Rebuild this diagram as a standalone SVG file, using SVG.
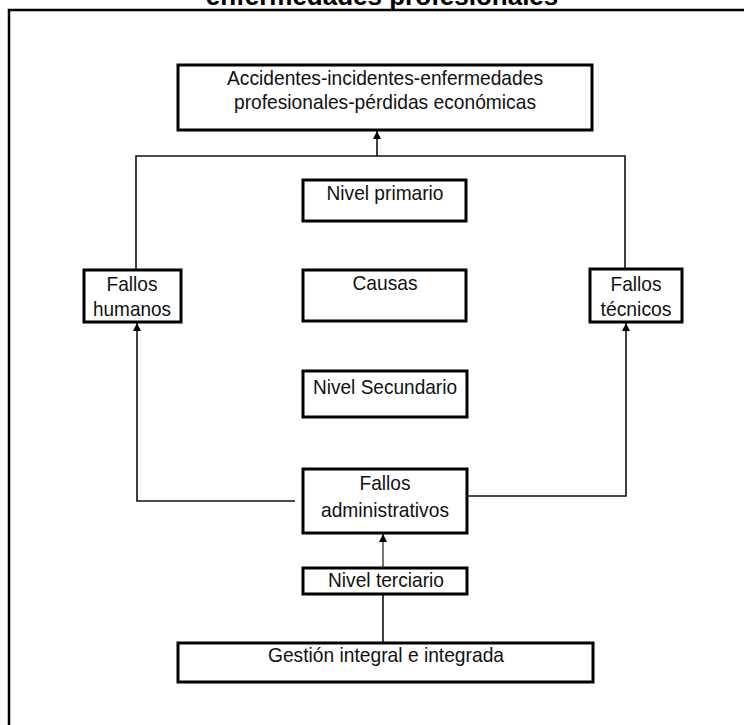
<svg xmlns="http://www.w3.org/2000/svg" width="744" height="725" viewBox="0 0 744 725">
<style>
.box{fill:#fff;stroke:#000;stroke-width:3}
.t{font-family:"Liberation Sans",Arial,sans-serif;font-size:21px;fill:#111;text-anchor:middle}
.title{font-family:"Liberation Sans",Arial,sans-serif;font-size:26px;font-weight:bold;fill:#000;text-anchor:middle}
.c{fill:none;stroke:#111;stroke-width:1.6}
.g{fill:none;stroke:#666;stroke-width:1.8}
</style>
<defs>
<marker id="ah" viewBox="0 0 10 10" refX="10" refY="5" markerWidth="8" markerHeight="8" markerUnits="userSpaceOnUse" orient="auto">
<path d="M0 0 L10 5 L0 10 Z" fill="#000"/>
</marker>
</defs>
<rect width="744" height="725" fill="#fff"/>
<text class="title" x="382" y="5">enfermedades profesionales</text>
<path d="M9 725 V10 H744" fill="none" stroke="#000" stroke-width="2.5"/>

<g id="connectors">
<path class="c" d="M136 270 V156 H625 V269"/>
<path class="c" d="M377 156 V131" marker-end="url(#ah)"/>
<path class="c" d="M295 501 H137 V323" marker-end="url(#ah)"/>
<path class="c" d="M468 496 H626 V323" marker-end="url(#ah)"/>
<path class="g" d="M383 568 V534" marker-end="url(#ah)"/>
<path class="c" d="M383 594 V643"/>
</g>

<g id="n-accidentes">
<rect class="box" x="178" y="65" width="414" height="65"/>
<text class="t" x="385" y="85" textLength="316" lengthAdjust="spacingAndGlyphs">Accidentes-incidentes-enfermedades</text>
<text class="t" x="385" y="109" textLength="302" lengthAdjust="spacingAndGlyphs">profesionales-pérdidas económicas</text>
</g>
<g id="n-primario">
<rect class="box" x="303" y="180" width="163" height="41"/>
<text class="t" x="385" y="200" textLength="117" lengthAdjust="spacingAndGlyphs">Nivel primario</text>
</g>
<g id="n-humanos">
<rect class="box" x="84" y="270" width="97" height="52"/>
<text class="t" x="132" y="291" textLength="51" lengthAdjust="spacingAndGlyphs">Fallos</text>
<text class="t" x="132" y="316" textLength="78" lengthAdjust="spacingAndGlyphs">humanos</text>
</g>
<g id="n-causas">
<rect class="box" x="303" y="270" width="163" height="51"/>
<text class="t" x="385" y="290" textLength="65" lengthAdjust="spacingAndGlyphs">Causas</text>
</g>
<g id="n-tecnicos">
<rect class="box" x="590" y="269" width="92" height="53"/>
<text class="t" x="636" y="291" textLength="51" lengthAdjust="spacingAndGlyphs">Fallos</text>
<text class="t" x="636" y="316" textLength="71" lengthAdjust="spacingAndGlyphs">técnicos</text>
</g>
<g id="n-secundario">
<rect class="box" x="303" y="371" width="164" height="46"/>
<text class="t" x="385" y="394" textLength="144" lengthAdjust="spacingAndGlyphs">Nivel Secundario</text>
</g>
<g id="n-administrativos">
<rect class="box" x="303" y="469" width="164" height="64"/>
<text class="t" x="385" y="490" textLength="51" lengthAdjust="spacingAndGlyphs">Fallos</text>
<text class="t" x="385" y="517" textLength="128" lengthAdjust="spacingAndGlyphs">administrativos</text>
</g>
<g id="n-terciario">
<rect class="box" x="303" y="568" width="164" height="26"/>
<text class="t" x="386" y="587" textLength="116" lengthAdjust="spacingAndGlyphs">Nivel terciario</text>
</g>
<g id="n-gestion">
<rect class="box" x="178" y="643" width="415" height="39"/>
<text class="t" x="386" y="662" textLength="236" lengthAdjust="spacingAndGlyphs">Gestión integral e integrada</text>
</g>
</svg>
